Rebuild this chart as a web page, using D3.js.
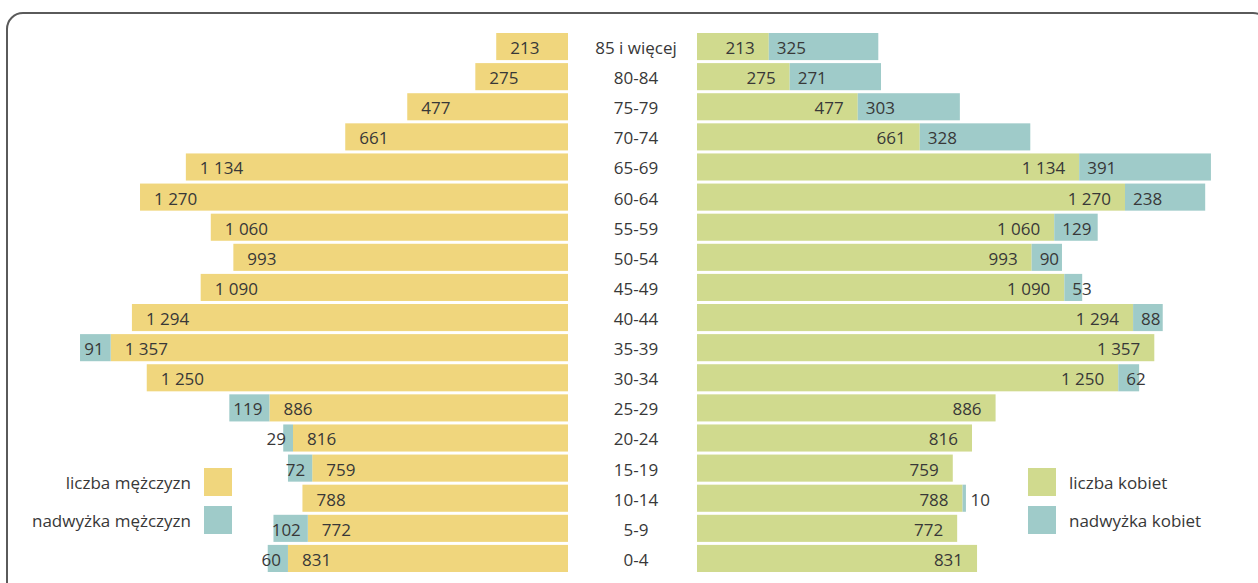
<!DOCTYPE html>
<html>
<head>
<meta charset="utf-8">
<script src="https://cdn.jsdelivr.net/npm/d3@7"></script>
<style>
  html, body { margin: 0; padding: 0; background: #fff; }
  svg { display: block; font-family: "Open Sans", sans-serif; }
</style>
</head>
<body>
<svg id="chart" width="1258" height="583"></svg>
<script>
const ageGroups = ["85 i więcej", "80-84", "75-79", "70-74", "65-69", "60-64", "55-59", "50-54",
    "45-49", "40-44", "35-39", "30-34", "25-29", "20-24", "15-19", "10-14", "5-9", "0-4"];

// wspólna część (mniejsza z liczb kobiet / mężczyzn)
const baseValues = [213, 275, 477, 661, 1134, 1270, 1060, 993, 1090, 1294, 1357, 1250, 886, 816, 759, 788, 772, 831];
const menSurplus = [0, 0, 0, 0, 0, 0, 0, 0, 0, 0, 91, 0, 119, 29, 72, 0, 102, 60];
const womenSurplus = [325, 271, 303, 328, 391, 238, 129, 90, 53, 88, 0, 62, 0, 0, 0, 10, 0, 0];

const colors = {
    men: "#f0d67d",
    women: "#d0da8e",
    surplus: "#9fcbc9",
    text: "#383838"
};

const svg = d3.select("#chart");
const fmt = v => d3.format(",")(v).replace(/,/g, " ");

const rows = ageGroups.map((g, i) => ({
    group: g,
    base: baseValues[i],
    men: menSurplus[i],
    women: womenSurplus[i]
}));

svg.append("rect")
    .attr("x", 7)
    .attr("y", 13)
    .attr("width", 1262)
    .attr("height", 585)
    .attr("rx", 16)
    .attr("fill", "none")
    .attr("stroke", "#5a5a5a")
    .attr("stroke-width", 2);

const y = d3.scaleBand()
    .domain(ageGroups)
    .range([33, 572])
    .paddingInner(0.1)
    .paddingOuter(0);

const xL = d3.scaleLinear().domain([0, 1500]).range([568, 568 - 1500 * 0.337]);
const xR = d3.scaleLinear().domain([0, 1500]).range([697, 697 + 1500 * 0.337]);

const rowG = svg.selectAll(".row")
    .data(rows)
    .enter()
    .append("g")
    .attr("class", "row")
    .attr("transform", d => `translate(0,${y(d.group)})`);

const h = y.bandwidth();
const mid = h / 2 + 1;

// mężczyźni
rowG.append("rect")
    .attr("x", d => xL(d.base))
    .attr("width", d => xL(0) - xL(d.base))
    .attr("height", h)
    .attr("fill", colors.men);

rowG.filter(d => d.men > 0)
    .append("rect")
    .attr("x", d => xL(d.base + d.men))
    .attr("width", d => xL(d.base) - xL(d.base + d.men))
    .attr("height", h)
    .attr("fill", colors.surplus);

// kobiety
rowG.append("rect")
    .attr("x", xR(0))
    .attr("width", d => xR(d.base) - xR(0))
    .attr("height", h)
    .attr("fill", colors.women);

rowG.filter(d => d.women > 0)
    .append("rect")
    .attr("x", d => xR(d.base))
    .attr("width", d => xR(d.base + d.women) - xR(d.base))
    .attr("height", h)
    .attr("fill", colors.surplus);

const label = sel => sel
    .attr("y", mid)
    .attr("dominant-baseline", "central")
    .attr("font-size", 17)
    .attr("fill", colors.text);

rowG.append("text")
    .call(label)
    .attr("x", d => xL(d.base) + 14)
    .text(d => fmt(d.base));

rowG.filter(d => d.men > 0)
    .append("text")
    .call(label)
    .attr("x", d => xL(d.base) - 7)
    .attr("text-anchor", "end")
    .text(d => fmt(d.men));

rowG.append("text")
    .call(label)
    .attr("x", d => xR(d.base) - 14)
    .attr("text-anchor", "end")
    .text(d => fmt(d.base));

rowG.filter(d => d.women > 0)
    .append("text")
    .call(label)
    .attr("x", d => xR(d.base) + 8)
    .text(d => fmt(d.women));

rowG.append("text")
    .call(label)
    .attr("x", 636)
    .attr("text-anchor", "middle")
    .text(d => d.group);

// legendy
const legendLeft = [
    { name: "liczba mężczyzn", color: colors.men },
    { name: "nadwyżka mężczyzn", color: colors.surplus }
];
const legendRight = [
    { name: "liczba kobiet", color: colors.women },
    { name: "nadwyżka kobiet", color: colors.surplus }
];

legendLeft.forEach((d, i) => {
    const yy = 468 + i * 38;
    svg.append("rect").attr("x", 204).attr("y", yy).attr("width", 28).attr("height", 28).attr("fill", d.color);
    svg.append("text").call(label).attr("x", 191).attr("y", yy + 14)
        .attr("text-anchor", "end").text(d.name);
});

legendRight.forEach((d, i) => {
    const yy = 468 + i * 38;
    svg.append("rect").attr("x", 1028).attr("y", yy).attr("width", 28).attr("height", 28).attr("fill", d.color);
    svg.append("text").call(label).attr("x", 1069).attr("y", yy + 14).text(d.name);
});
</script>
</body>
</html>
